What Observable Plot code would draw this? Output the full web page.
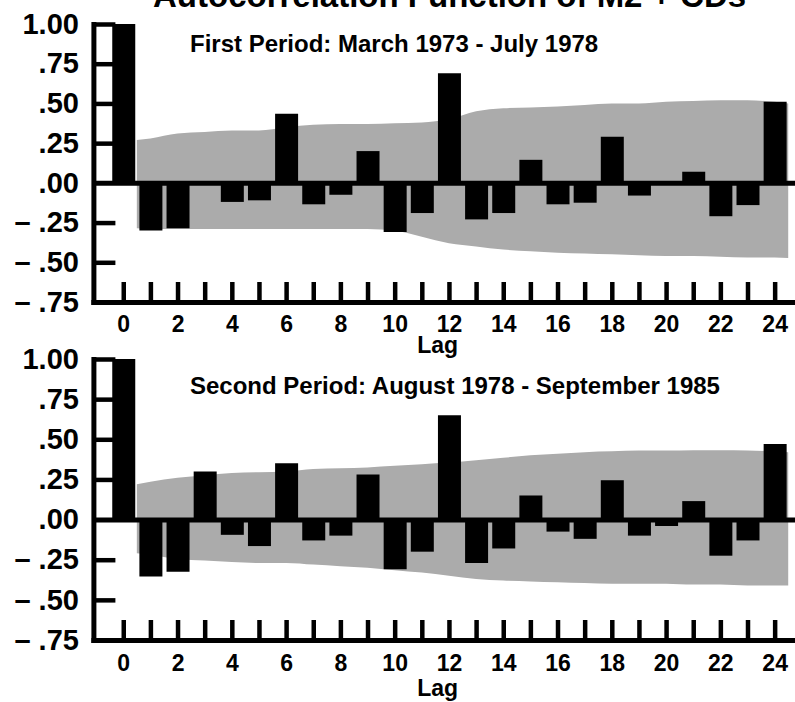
<!DOCTYPE html>
<html><head><meta charset="utf-8">
<script src="https://cdn.jsdelivr.net/npm/d3@7"></script>
<script src="https://cdn.jsdelivr.net/npm/@observablehq/plot@0.6"></script>
<style>
html,body{margin:0;padding:0;background:#fff;overflow:hidden;}
#wrap{position:relative;width:795px;height:702px;overflow:hidden;font-family:"Liberation Sans",Arial,Helvetica,sans-serif;font-weight:bold;color:#000;}
.title{position:absolute;left:153px;top:-21px;font-size:33px;line-height:33px;white-space:nowrap;}
.sub{position:absolute;left:190px;font-size:24px;line-height:24px;white-space:nowrap;}
.panel{position:absolute;left:0;}
</style></head><body>
<div id="wrap">
  <div class="title">Autocorrelation Function of M2 + CDs</div>
  <div class="panel" id="p1" style="top:0px"></div>
  <div class="panel" id="p2" style="top:336px"></div>
  <div class="sub" style="top:32px">First Period: March 1973 - July 1978</div>
  <div class="sub" style="top:374px">Second Period: August 1978 - September 1985</div>
</div>
<script>
// ---- data ----
const lags = [0,1,2,3,4,5,6,7,8,9,10,11,12,13,14,15,16,17,18,19,20,21,22,23,24];
const acfFirst  = [1.00,-0.30,-0.285,0.0,-0.12,-0.11,0.435,-0.135,-0.075,0.20,-0.31,-0.19,0.69,-0.23,-0.19,0.145,-0.135,-0.125,0.29,-0.08,0.0,0.07,-0.21,-0.14,0.51];
const acfSecond = [1.00,-0.355,-0.325,0.30,-0.095,-0.165,0.35,-0.13,-0.10,0.28,-0.31,-0.20,0.65,-0.27,-0.18,0.15,-0.075,-0.12,0.245,-0.10,-0.04,0.115,-0.225,-0.13,0.47];

const bandLags = [0.5,1,2,3,4,5,6,7,8,9,10,11,12,13,14,15,16,17,18,19,20,21,22,23,24,24.5];
const bandUpperFirst  = [0.27,0.28,0.31,0.32,0.33,0.33,0.35,0.365,0.37,0.37,0.375,0.38,0.40,0.45,0.47,0.475,0.48,0.49,0.50,0.50,0.51,0.515,0.52,0.52,0.51,0.50];
const bandLowerFirst  = [-0.285,-0.29,-0.29,-0.29,-0.29,-0.29,-0.29,-0.29,-0.29,-0.29,-0.30,-0.34,-0.38,-0.40,-0.42,-0.43,-0.44,-0.445,-0.45,-0.455,-0.46,-0.46,-0.465,-0.47,-0.47,-0.473];
const bandUpperSecond = [0.22,0.235,0.26,0.275,0.29,0.295,0.30,0.315,0.32,0.325,0.335,0.345,0.355,0.37,0.385,0.40,0.41,0.42,0.425,0.43,0.43,0.432,0.432,0.43,0.425,0.42];
const bandLowerSecond = [-0.21,-0.22,-0.245,-0.255,-0.265,-0.27,-0.27,-0.28,-0.29,-0.30,-0.315,-0.33,-0.35,-0.37,-0.38,-0.385,-0.39,-0.395,-0.40,-0.40,-0.40,-0.405,-0.405,-0.41,-0.41,-0.41];

const yTicks = [-0.75,-0.50,-0.25,0,0.25,0.50,0.75,1.00];
const yTickLabels = ["– .75","– .50","– .25",".00",".25",".50",".75","1.00"];
const yMarkTicks = [-0.50,-0.25,0.25,0.50,0.75,1.00];
const xLabelTicks = [0,2,4,6,8,10,12,14,16,18,20,22,24];
const axisTitle = "Lag";

const FONT = '"Liberation Sans", Arial, Helvetica, sans-serif';

function panel(acf, upper, lower, opts) {
  const bars = lags.map((l, i) => ({lag: l, acf: acf[i]}));
  const band = bandLags.map((l, i) => ({lag: l, hi: upper[i], lo: lower[i]}));
  return Plot.plot({
    width: 795,
    height: opts.height,
    marginLeft: 93.4,
    marginRight: 0,
    marginTop: opts.marginTop,
    marginBottom: opts.marginBottom,
    style: {fontFamily: FONT, fontWeight: "bold", color: "#000", background: "none", overflow: "visible"},
    x: {domain: [-1.1, 24.75], label: null},
    y: {domain: [-0.75, 1.0], label: null},
    marks: [
      Plot.areaY(band, {x: "lag", y1: "lo", y2: "hi", fill: "#ababab", curve: "monotone-x"}),
      Plot.ruleX(bars, {x: "lag", y1: 0, y2: "acf", stroke: "#000", strokeWidth: 23}),
      Plot.ruleY([0], {stroke: "#000", strokeWidth: 5}),
      Plot.axisY({ticks: yMarkTicks, tickSize: -22, strokeWidth: 4.5, tickFormat: () => "", label: null}),
      Plot.axisX({ticks: lags, tickSize: -20, strokeWidth: 4.5, tickFormat: () => "", label: null}),
      Plot.axisY({ticks: yTicks, tickSize: 0, tickPadding: 15, fontSize: 29, fontWeight: "bold", label: null,
        tickFormat: (d) => yTickLabels[yTicks.indexOf(d)]}),
      Plot.axisX({ticks: xLabelTicks, tickSize: 0, tickPadding: opts.xPad, fontSize: 23, fontWeight: "bold", label: null}),
      Plot.frame({anchor: "left", stroke: "#000", strokeWidth: 5}),
      Plot.frame({anchor: "bottom", stroke: "#000", strokeWidth: 5}),
      Plot.text([axisTitle], {frameAnchor: "bottom", dx: -7, dy: opts.lagDy, fontSize: 23, fontWeight: "bold"})
    ]
  });
}

document.getElementById("p1").append(panel(acfFirst, bandUpperFirst, bandLowerFirst,
  {height: 362, marginTop: 24, marginBottom: 60, xPad: 13, lagDy: 50}));
document.getElementById("p2").append(panel(acfSecond, bandUpperSecond, bandLowerSecond,
  {height: 366, marginTop: 23, marginBottom: 62, xPad: 14, lagDy: 55}));
</script>
</body></html>
